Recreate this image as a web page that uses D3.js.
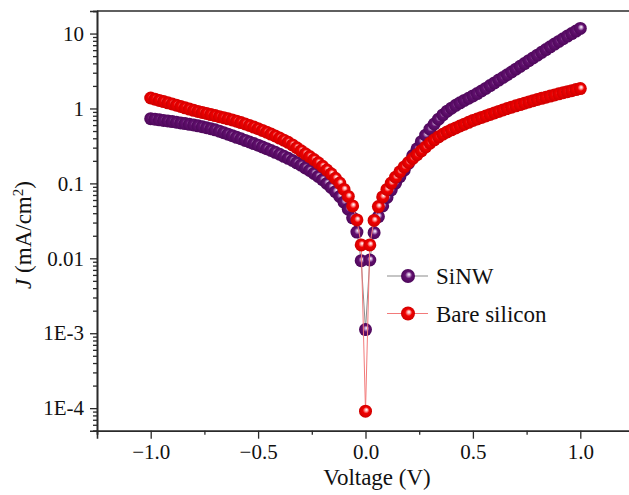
<!DOCTYPE html>
<html>
<head>
<meta charset="utf-8">
<script src="https://cdn.jsdelivr.net/npm/d3@7/dist/d3.min.js"></script>
<style>
    body { margin: 0; background: #fff; }
    svg { display: block; font-family: "Liberation Serif", "Times New Roman", serif; }
</style>
</head>
<body>
<svg id="vis1" width="629" height="495"></svg>
<script>
// bias voltage (V)
let voltage = [
    -1.00,-0.98,-0.96,-0.94,-0.92,-0.90,-0.88,-0.86,-0.84,-0.82,
    -0.80,-0.78,-0.76,-0.74,-0.72,-0.70,-0.68,-0.66,-0.64,-0.62,
    -0.60,-0.58,-0.56,-0.54,-0.52,-0.50,-0.48,-0.46,-0.44,-0.42,
    -0.40,-0.38,-0.36,-0.34,-0.32,-0.30,-0.28,-0.26,-0.24,-0.22,
    -0.20,-0.18,-0.16,-0.14,-0.12,-0.10,-0.08,-0.06,-0.04,-0.02,
    0.00,
    0.02,0.04,0.06,0.08,0.10,0.12,0.14,0.16,0.18,0.20,
    0.22,0.24,0.26,0.28,0.30,0.32,0.34,0.36,0.38,0.40,
    0.42,0.44,0.46,0.48,0.50,0.52,0.54,0.56,0.58,0.60,
    0.62,0.64,0.66,0.68,0.70,0.72,0.74,0.76,0.78,0.80,
    0.82,0.84,0.86,0.88,0.90,0.92,0.94,0.96,0.98,1.00
];

// current density |J| (mA/cm2), SiNW
let sinwJ = [
    0.731,0.719,0.706,0.693,0.681,0.668,0.655,0.641,0.628,0.615,
    0.603,0.586,0.570,0.553,0.536,0.519,0.498,0.476,0.454,0.433,
    0.412,0.394,0.375,0.357,0.340,0.324,0.307,0.291,0.275,0.260,
    0.245,0.230,0.216,0.202,0.188,0.175,0.161,0.149,0.136,0.124,
    0.112,0.100,0.0887,0.0776,0.0668,0.0562,0.0452,0.0347,0.0224,0.0093,
    0.00112,
    0.0095,0.022,0.036,0.050,0.065,0.082,0.101,0.123,0.150,0.185,
    0.235,0.290,0.360,0.440,0.530,0.620,0.720,0.820,0.920,1.01,
    1.10,1.19,1.28,1.37,1.47,1.58,1.71,1.85,2.02,2.19,
    2.39,2.59,2.82,3.07,3.35,3.65,3.98,4.34,4.73,5.15,
    5.61,6.11,6.65,7.23,7.85,8.53,9.25,10.0,10.8,11.7
];

// current density |J| (mA/cm2), bare silicon
let bareJ = [
    1.380,1.330,1.282,1.236,1.191,1.148,1.104,1.062,1.021,0.982,
    0.944,0.914,0.885,0.857,0.830,0.804,0.778,0.753,0.728,0.703,
    0.676,0.649,0.621,0.593,0.565,0.537,0.509,0.482,0.455,0.429,
    0.403,0.378,0.353,0.326,0.299,0.272,0.248,0.228,0.208,0.188,
    0.169,0.151,0.134,0.117,0.101,0.083,0.067,0.050,0.0325,0.0151,
    0.000091,
    0.0151,0.032,0.049,0.066,0.083,0.101,0.121,0.143,0.166,0.190,
    0.215,0.242,0.272,0.306,0.345,0.382,0.418,0.453,0.487,0.519,
    0.550,0.584,0.617,0.653,0.692,0.724,0.759,0.794,0.832,0.871,
    0.912,0.955,1.000,1.040,1.084,1.127,1.175,1.222,1.271,1.318,
    1.365,1.413,1.462,1.514,1.567,1.622,1.675,1.730,1.786,1.841
];

let seriesNames = ["SiNW", "Bare silicon"];

let xTickValues = [-1.0, -0.5, 0.0, 0.5, 1.0];
let xTickLabels = ["\u22121.0", "\u22120.5", "0.0", "0.5", "1.0"];
let xMinorValues = [-1.25, -0.75, -0.25, 0.25, 0.75, 1.25];

let yTickValues = [1e-4, 1e-3, 1e-2, 1e-1, 1, 10];
let yTickLabels = ["1E-4", "1E-3", "0.01", "0.1", "1", "10"];


let svg = d3.select("svg#vis1");

let margin = { top: 11, left: 97 };
let plotWidth = 537;     // right frame sits just outside the window
let plotHeight = 419.7;

let x = d3.scaleLinear()
    .domain([-1.25, 1.25])
    .range([0, plotWidth]);

let y = d3.scaleLog()
    .domain([5e-5, 20])
    .range([plotHeight, 0]);

let plot = svg.append("g")
    .attr("id", "plot")
    .attr("transform", "translate(" + margin.left + "," + margin.top + ")");

// sphere-like markers
let defs = svg.append("defs");
function sphere(id, light, base, dark) {
    let g = defs.append("radialGradient")
        .attr("id", id)
        .attr("cx", "50%").attr("cy", "50%").attr("r", "55%")
        .attr("fx", "58%").attr("fy", "38%");
    g.append("stop").attr("offset", "0%").attr("stop-color", "#ffffff");
    g.append("stop").attr("offset", "18%").attr("stop-color", light);
    g.append("stop").attr("offset", "45%").attr("stop-color", base);
    g.append("stop").attr("offset", "100%").attr("stop-color", dark);
}
sphere("ballPurple", "#c9a6d2", "#62106f", "#4a0657");
sphere("ballRed", "#ffb0b0", "#f00000", "#c80000");

let series = [
    { name: seriesNames[0], values: sinwJ, line: "#8c8c8c", fill: "url(#ballPurple)" },
    { name: seriesNames[1], values: bareJ, line: "#f27a7a", fill: "url(#ballRed)" }
];

let line = d3.line()
    .x(function (d) { return x(d[0]); })
    .y(function (d) { return y(d[1]); });

let r = 6.5;

series.forEach(function (s) {
    let pts = voltage.map(function (v, i) { return [v, s.values[i]]; });

    plot.append("path")
        .datum(pts)
        .attr("d", line)
        .attr("fill", "none")
        .attr("stroke", s.line)
        .attr("stroke-width", 1);

    plot.append("g").selectAll("circle")
        .data(pts)
        .enter().append("circle")
        .attr("cx", function (d) { return x(d[0]); })
        .attr("cy", function (d) { return y(d[1]); })
        .attr("r", r)
        .attr("fill", s.fill);
});

// axes
let xAxis = d3.axisBottom(x)
    .tickValues(xTickValues)
    .tickFormat(function (d, i) { return xTickLabels[i]; })
    .tickSize(8)
    .tickPadding(5);

let xMinor = d3.axisBottom(x)
    .tickValues(xMinorValues)
    .tickFormat("")
    .tickSize(4);

let yMinorValues = [];
[1e-5, 1e-4, 1e-3, 1e-2, 1e-1, 1, 10].forEach(function (dec) {
    for (let k = 2; k <= 9; k++) {
        let v = dec * k;
        if (v >= 5e-5 && v <= 20) yMinorValues.push(v);
    }
});

let yAxis = d3.axisLeft(y)
    .tickValues(yTickValues)
    .tickFormat(function (d, i) { return yTickLabels[i]; })
    .tickSize(7)
    .tickPadding(6);

let yMinor = d3.axisLeft(y)
    .tickValues(yMinorValues)
    .tickFormat("")
    .tickSize(4);

let xGroup = plot.append("g").attr("id", "x-axis")
    .attr("transform", "translate(0," + plotHeight + ")")
    .call(xAxis);
plot.append("g")
    .attr("transform", "translate(0," + plotHeight + ")")
    .call(xMinor);

let yGroup = plot.append("g").attr("id", "y-axis").call(yAxis);
plot.append("g").call(yMinor);

plot.selectAll(".domain").attr("stroke", "#2a2a2a").attr("stroke-width", 1.6);
plot.selectAll(".tick line").attr("stroke", "#2a2a2a").attr("stroke-width", 1.3);
plot.selectAll(".tick text")
    .style("font-family", "'Liberation Serif', 'Times New Roman', serif")
    .style("font-size", "21px")
    .attr("fill", "#111");

// top frame line
plot.append("line")
    .attr("x1", 0).attr("x2", plotWidth)
    .attr("y1", 0).attr("y2", 0)
    .attr("stroke", "#2a2a2a")
    .attr("stroke-width", 1.6);

// axis titles
svg.append("text")
    .attr("x", 377)
    .attr("y", 485)
    .style("font-size", "23px")
    .style("text-anchor", "middle")
    .attr("fill", "#111")
    .text("Voltage (V)");

let yTitle = svg.append("text")
    .attr("transform", "translate(31,235) rotate(-90)")
    .style("font-size", "23px")
    .style("text-anchor", "middle")
    .attr("fill", "#111");
yTitle.append("tspan").style("font-style", "italic").text("J");
yTitle.append("tspan").text(" (mA/cm");
yTitle.append("tspan").attr("dy", "-8").style("font-size", "15px").text("2");
yTitle.append("tspan").attr("dy", "8").text(")");

// legend
let legend = svg.append("g").attr("id", "legend");
series.forEach(function (s, i) {
    let ly = 276 + i * 37.5;
    legend.append("line")
        .attr("x1", 387).attr("x2", 428)
        .attr("y1", ly).attr("y2", ly)
        .attr("stroke", s.line)
        .attr("stroke-width", 1.2);
    legend.append("circle")
        .attr("cx", 408).attr("cy", ly)
        .attr("r", 7)
        .attr("fill", s.fill);
    legend.append("text")
        .attr("x", 436)
        .attr("y", ly + 8)
        .style("font-size", "23px")
        .attr("fill", "#111")
        .text(s.name);
});
</script>
</body>
</html>
